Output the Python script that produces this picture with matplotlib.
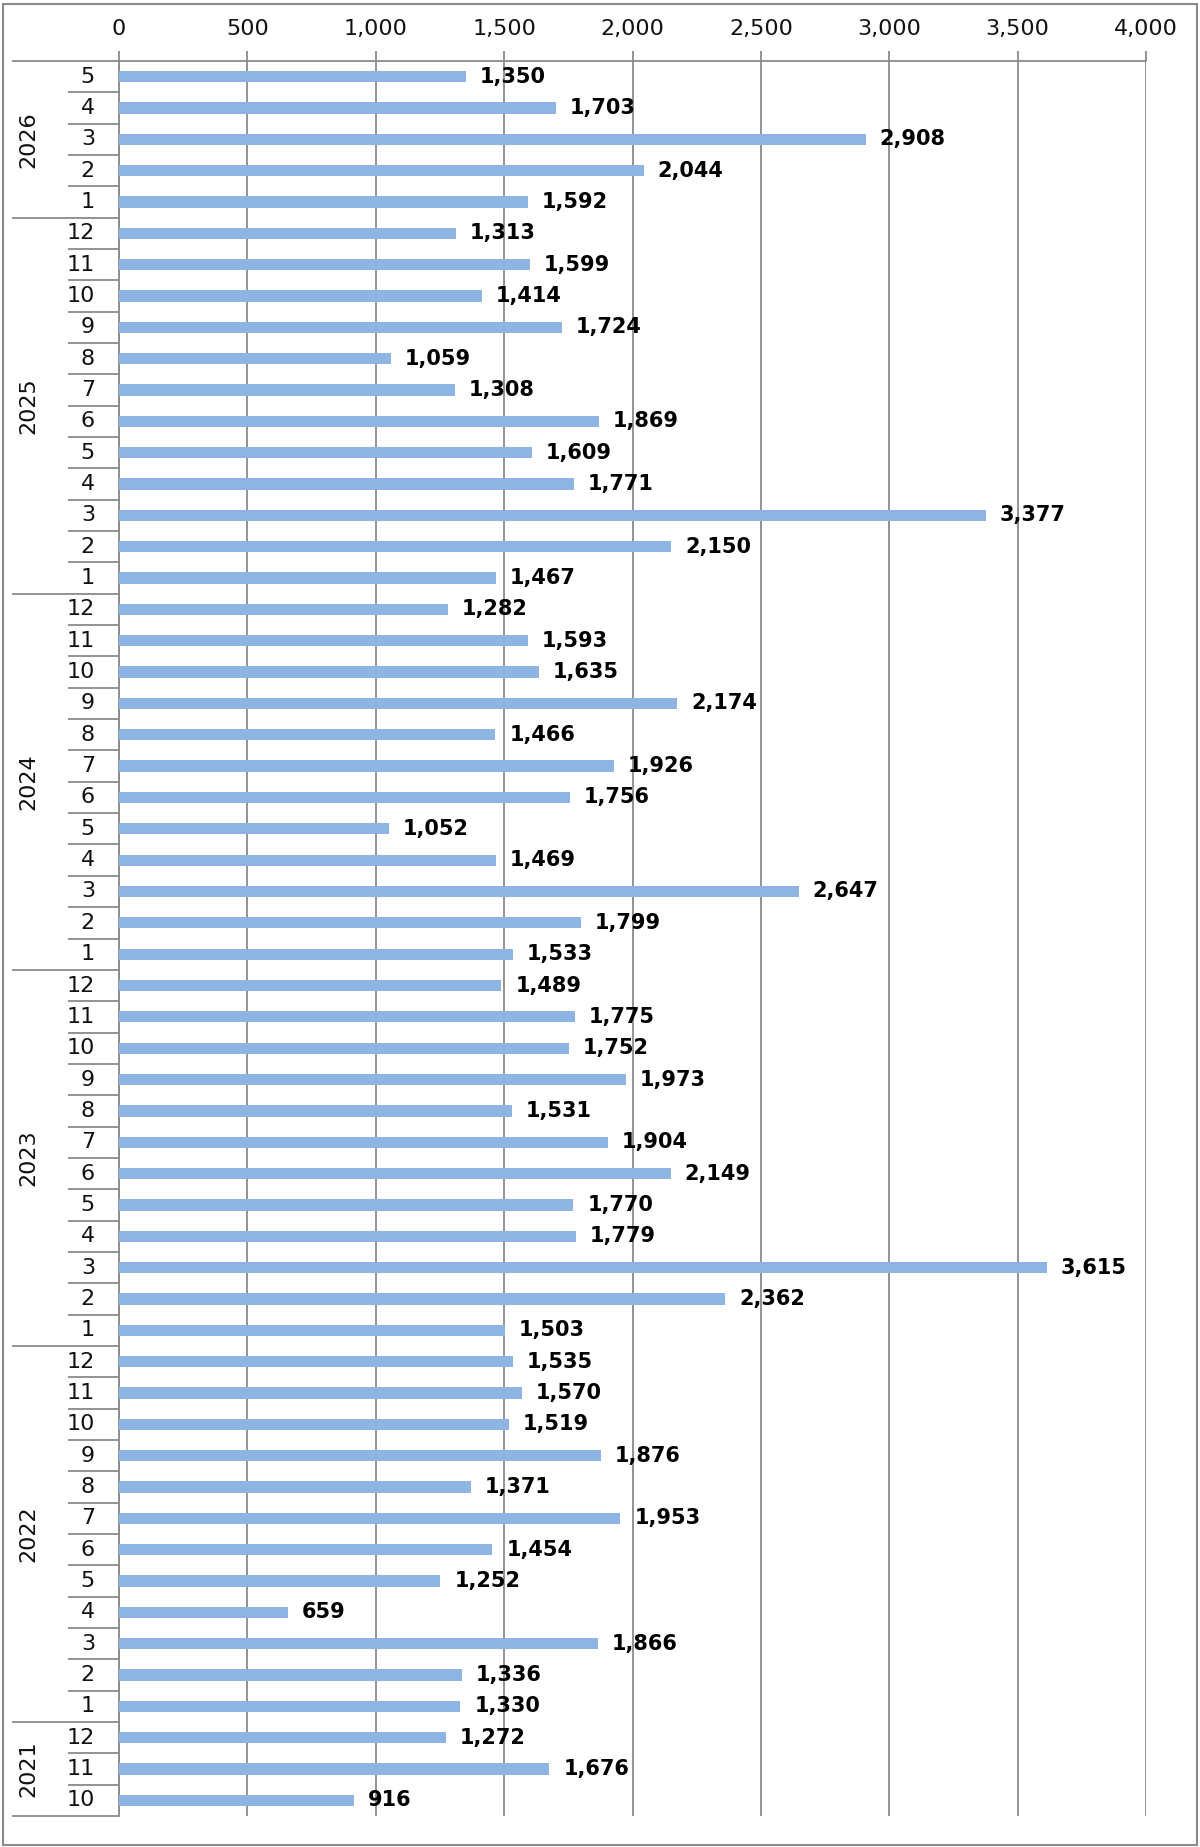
import matplotlib
matplotlib.use("Agg")
import matplotlib.pyplot as plt
from matplotlib.patches import Rectangle
from matplotlib.transforms import blended_transform_factory

years = ["2026", "2025", "2024", "2023", "2022", "2021"]
months_2026 = [5, 4, 3, 2, 1]
months_full = [12, 11, 10, 9, 8, 7, 6, 5, 4, 3, 2, 1]
months_2021 = [12, 11, 10]
values_2026 = [1350, 1703, 2908, 2044, 1592]
values_2025 = [1313, 1599, 1414, 1724, 1059, 1308, 1869, 1609, 1771, 3377, 2150, 1467]
values_2024 = [1282, 1593, 1635, 2174, 1466, 1926, 1756, 1052, 1469, 2647, 1799, 1533]
values_2023 = [1489, 1775, 1752, 1973, 1531, 1904, 2149, 1770, 1779, 3615, 2362, 1503]
values_2022 = [1535, 1570, 1519, 1876, 1371, 1953, 1454, 1252, 659, 1866, 1336, 1330]
values_2021 = [1272, 1676, 916]
xticks = [0, 500, 1000, 1500, 2000, 2500, 3000, 3500, 4000]

groups = [
    (years[0], months_2026, values_2026),
    (years[1], months_full, values_2025),
    (years[2], months_full, values_2024),
    (years[3], months_full, values_2023),
    (years[4], months_full, values_2022),
    (years[5], months_2021, values_2021),
]

month_labels = []
values = []
group_spans = []
for yr, ms, vs in groups:
    start = len(values)
    month_labels += [str(m) for m in ms]
    values += vs
    group_spans.append((yr, start, len(values)))

W, H = 1200, 1847
fig = plt.figure(figsize=(W / 100, H / 100), dpi=100)
plt.rcParams['font.family'] = ['DejaVu Sans']

left, right, top, bottom = 119, 1146, 61, 1816
ax = fig.add_axes([left / W, 1 - bottom / H, (right - left) / W, (bottom - top) / H])

n = len(values)
ypos = list(range(n))
bar_color = "#8DB4E2"
grid_color = "#8A8A8A"
ax.barh(ypos, values, height=0.36, color=bar_color, zorder=3)

ax.set_xlim(0, 4000)
ax.set_ylim(n - 0.5, -0.5)
ax.xaxis.tick_top()
ax.set_xticks(xticks)
ax.set_xticklabels([f"{v:,}" for v in xticks], fontsize=16, color="#111111")
ax.tick_params(axis="x", direction="out", length=7, width=1.3, color=grid_color, pad=9)
ax.set_yticks([])
ax.grid(axis="x", color=grid_color, linewidth=1.3, zorder=0)
for s in ["right", "bottom"]:
    ax.spines[s].set_visible(False)
for s in ["top", "left"]:
    ax.spines[s].set_color(grid_color)
    ax.spines[s].set_linewidth(1.3)

for y, v in zip(ypos, values):
    ax.annotate(f"{v:,}", xy=(v, y), xytext=(10, 0), textcoords="offset points",
                ha="left", va="center", fontsize=15, fontweight="bold", color="#000000",
                zorder=4)

# category axis (month and year labels + separators)
trans = blended_transform_factory(fig.transFigure, ax.transData)
x_month_sep = 68 / W
x_year_sep = 12 / W
x_axis = left / W
year_boundaries = set()
for yr, s, e in group_spans:
    year_boundaries.add(s)
    year_boundaries.add(e)
for b in range(n + 1):
    yb = b - 0.5
    x0 = x_year_sep if b in year_boundaries else x_month_sep
    ax.plot([x0, x_axis], [yb, yb], transform=trans, color=grid_color,
            linewidth=1.3, clip_on=False, solid_capstyle="butt")
for y, lab in zip(ypos, month_labels):
    ax.text(95 / W, y, lab, transform=trans, ha="right", va="center",
            fontsize=16, color="#111111")
for yr, s, e in group_spans:
    ax.text(28 / W, (s + e - 1) / 2, yr, transform=trans, ha="center", va="center",
            rotation=90, fontsize=16, color="#111111")

# outer border
fig.patches.append(Rectangle((3 / W, 2 / H), 1194 / W, 1841 / H, transform=fig.transFigure,
                             fill=False, edgecolor="#8A8A8A", linewidth=1.5))

fig.savefig("out.png", dpi=100, facecolor="white")
